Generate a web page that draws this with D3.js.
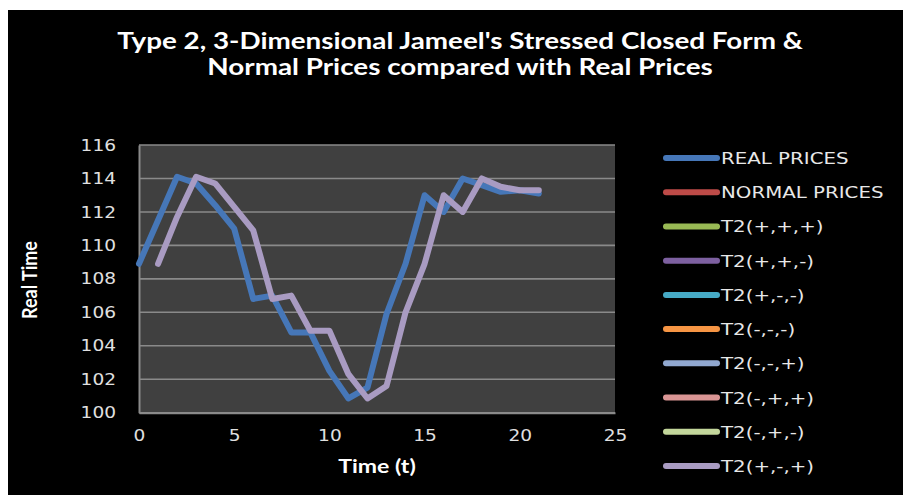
<!DOCTYPE html>
<html><head><meta charset="utf-8">
<script src="https://cdn.jsdelivr.net/npm/d3@7"></script>
<style>
html,body{margin:0;padding:0;background:#fff;}
svg{display:block;}
</style></head>
<body>
<svg id="chart" width="903" height="495"></svg>
<script>
// ---- data ----
const timeReal = [0,1,2,3,4,5,6,7,8,9,10,11,12,13,14,15,16,17,18,19,20,21];
const realPrices = [108.9,111.5,114.1,113.7,112.4,111.0,106.8,107.0,104.8,104.8,102.5,100.85,101.5,105.9,108.9,113.0,112.0,114.0,113.6,113.2,113.3,113.1];
const timeT2 = [1,2,3,4,5,6,7,8,9,10,11,12,13,14,15,16,17,18,19,20,21];
const t2pmp = [108.9,111.7,114.1,113.7,112.3,110.9,106.8,107.0,104.9,104.9,102.3,100.85,101.6,106.0,108.9,113.0,112.0,114.0,113.5,113.3,113.3];
const legendLabels = ["REAL PRICES","NORMAL PRICES","T2(+,+,+)","T2(+,+,-)","T2(+,-,-)","T2(-,-,-)","T2(-,-,+)","T2(-,+,+)","T2(-,+,-)","T2(+,-,+)"];
const legendColors = ["#4677b8","#be4b48","#98b954","#7d60a0","#46aac5","#f69544","#91a8d0","#d99594","#c3d69b","#a99bc2"];
const yTicks = [100,102,104,106,108,110,112,114,116];
const xTicks = [0,5,10,15,20,25];

const svg = d3.select("#chart");
svg.append("rect").attr("x",8).attr("y",10).attr("width",895).attr("height",485).attr("fill","#000");

const L=139, R=615, T=145, B=412.7;
const SX = 1.16; // horizontal stretch of text in reference
const x = d3.scaleLinear().domain([0,25]).range([L,R]);
const y = d3.scaleLinear().domain([100,116]).range([B,T]);

svg.append("rect").attr("x",L).attr("y",T).attr("width",R-L).attr("height",B-T).attr("fill","#404040");

// gridlines
svg.append("g").selectAll("line").data(yTicks).join("line")
  .attr("x1",L).attr("x2",R).attr("y1",d=>y(d)).attr("y2",d=>y(d))
  .attr("stroke","#8a8a8a").attr("stroke-width",1.6);

// axes
const fontTick = "'DejaVu Sans', sans-serif";
const yAxis = d3.axisLeft(y).tickValues(yTicks).tickSize(0).tickPadding(23);
const gy = svg.append("g").attr("transform",`translate(${L},0)`).call(yAxis);
gy.select(".domain").attr("stroke","#8a8a8a").attr("stroke-width",2);
gy.selectAll("text").attr("fill","#e0e0e0").style("font-family",fontTick).style("font-size","16px")
  .attr("x",-23/SX).attr("transform",`scale(${SX},1)`);

const xAxis = d3.axisBottom(x).tickValues(xTicks).tickSize(0).tickPadding(17);
const gx = svg.append("g").attr("transform",`translate(0,${B})`).call(xAxis);
gx.select(".domain").attr("stroke","#8a8a8a").attr("stroke-width",2);
gx.selectAll("text").attr("fill","#e0e0e0").style("font-family",fontTick).style("font-size","16px")
  .attr("transform",`scale(${SX},1)`);

// lines
const line = d3.line().x(d=>x(d[0])).y(d=>y(d[1])).curve(d3.curveLinear);
svg.append("path").datum(timeReal.map((t,i)=>[t,realPrices[i]]))
  .attr("d",line).attr("fill","none").attr("stroke",legendColors[0])
  .attr("stroke-width",6).attr("stroke-linejoin","round").attr("stroke-linecap","round");
svg.append("path").datum(timeT2.map((t,i)=>[t,t2pmp[i]]))
  .attr("d",line).attr("fill","none").attr("stroke",legendColors[9])
  .attr("stroke-width",6).attr("stroke-linejoin","round").attr("stroke-linecap","round");

// title
const titleLines = ["Type 2, 3-Dimensional Jameel's Stressed Closed Form &","Normal Prices compared with Real Prices"];
titleLines.forEach((t,i)=>{
  svg.append("text").attr("transform",`translate(460,${49+i*26}) scale(1.21,1)`)
    .attr("text-anchor","middle").attr("fill","#fff")
    .style("font-family","Lato, 'Open Sans', sans-serif").style("font-weight","bold").style("font-size","23px").text(t);
});

// axis titles
svg.append("text").attr("transform","translate(377,473) scale(1.28,1)").attr("text-anchor","middle").attr("fill","#fff")
  .style("font-family","Lato, sans-serif").style("font-weight","bold").style("font-size","18px").text("Time (t)");
svg.append("text").attr("transform","translate(37,280) rotate(-90) scale(1,1.15)").attr("text-anchor","middle").attr("fill","#fff")
  .style("font-family","Lato, sans-serif").style("font-weight","bold").style("font-size","18px").text("Real Time");

// legend
const lg = svg.append("g");
const ly = d3.scaleLinear().domain([0,9]).range([158,466]);
legendLabels.forEach((lab,i)=>{
  lg.append("line").attr("x1",666).attr("x2",717).attr("y1",ly(i)).attr("y2",ly(i))
    .attr("stroke",legendColors[i]).attr("stroke-width",6).attr("stroke-linecap","round");
  lg.append("text").attr("transform",`translate(721,${ly(i)+6}) scale(1.2,1)`).attr("fill","#e8e8e8")
    .style("font-family",fontTick).style("font-size","16.5px").text(lab);
});
</script>
</body></html>
